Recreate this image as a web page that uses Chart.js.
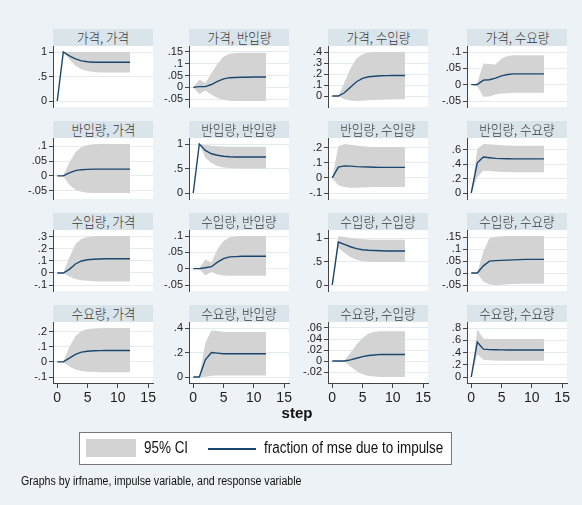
<!DOCTYPE html>
<html>
<head>
<meta charset="utf-8">
<script src="https://cdn.jsdelivr.net/npm/chart.js@4.4.1/dist/chart.umd.min.js"></script>
<style>
  body { margin: 0; background: #ecf2f6; }
  #wrap { position: relative; width: 582px; height: 505px; background: #ecf2f6; overflow: hidden; }
  #wrap canvas { position: absolute; }
  .ttl { position: absolute; height: 17px; background: #dae4eb; color: #3a3a3a;
         font: 300 14px 'Noto Sans CJK KR', sans-serif; line-height: 17px; text-align: center; white-space: nowrap; }
  .ttl span { display: inline-block; transform: scaleX(0.9); }
  .txt { position: absolute; white-space: nowrap; color: #111; font-family: 'Liberation Sans', Arial, sans-serif; }
</style>
</head>
<body>
<div id="wrap"></div>
<script>
// steps 0..12 of the FEVD, panels row = impulse, col = response
const steps = [0, 1, 2, 3, 4, 5, 6, 7, 8, 9, 10, 11, 12];
const varNames = ['가격', '반입량', '수입량', '수요량'];
const xTickValues = [0, 5, 10, 15];

const fraction = [
  [0, 1.0, 0.92, 0.86, 0.82, 0.80, 0.79, 0.79, 0.79, 0.79, 0.79, 0.79, 0.79],
  [0, 0.003, 0.003, 0.012, 0.025, 0.036, 0.041, 0.042, 0.043, 0.043, 0.044, 0.044, 0.044],
  [0, 0, 0.03, 0.08, 0.13, 0.16, 0.175, 0.18, 0.184, 0.185, 0.186, 0.186, 0.186],
  [0, 0, 0.014, 0.015, 0.02, 0.027, 0.031, 0.033, 0.033, 0.033, 0.033, 0.033, 0.033],
  [0, 0, 0.01, 0.018, 0.021, 0.022, 0.023, 0.023, 0.023, 0.023, 0.023, 0.023, 0.023],
  [0, 1.0, 0.87, 0.80, 0.77, 0.75, 0.74, 0.735, 0.735, 0.735, 0.735, 0.735, 0.735],
  [0, 0.072, 0.08, 0.078, 0.075, 0.073, 0.072, 0.071, 0.07, 0.07, 0.07, 0.07, 0.07],
  [0, 0.42, 0.50, 0.49, 0.48, 0.477, 0.475, 0.474, 0.473, 0.473, 0.473, 0.473, 0.473],
  [0, 0, 0.03, 0.075, 0.1, 0.11, 0.115, 0.117, 0.118, 0.118, 0.118, 0.118, 0.118],
  [0, 0, 0.003, 0.006, 0.02, 0.031, 0.036, 0.037, 0.038, 0.038, 0.038, 0.038, 0.038],
  [0, 0.92, 0.87, 0.82, 0.78, 0.755, 0.745, 0.74, 0.735, 0.73, 0.73, 0.73, 0.73],
  [0, 0, 0.03, 0.05, 0.052, 0.053, 0.054, 0.055, 0.056, 0.057, 0.057, 0.057, 0.057],
  [0, 0, 0.025, 0.05, 0.065, 0.071, 0.074, 0.075, 0.076, 0.076, 0.076, 0.076, 0.076],
  [0, 0, 0.14, 0.2, 0.195, 0.19, 0.19, 0.19, 0.19, 0.19, 0.19, 0.19, 0.19],
  [0, 0, 0, 0.002, 0.005, 0.008, 0.010, 0.011, 0.012, 0.012, 0.012, 0.012, 0.012],
  [0, 0.57, 0.455, 0.447, 0.445, 0.443, 0.442, 0.441, 0.44, 0.44, 0.44, 0.44, 0.44]
];

const ciLower = [
  [0, 1.0, 0.85, 0.72, 0.65, 0.61, 0.59, 0.58, 0.58, 0.58, 0.58, 0.58, 0.58],
  [0, -0.028, -0.015, -0.03, -0.045, -0.053, -0.057, -0.058, -0.058, -0.058, -0.058, -0.058, -0.058],
  [0, -0.002, -0.03, -0.04, -0.045, -0.042, -0.038, -0.035, -0.033, -0.032, -0.031, -0.03, -0.03],
  [0, -0.005, -0.037, -0.036, -0.03, -0.027, -0.026, -0.025, -0.025, -0.025, -0.025, -0.025, -0.025],
  [0, -0.002, -0.03, -0.047, -0.054, -0.057, -0.058, -0.058, -0.058, -0.058, -0.058, -0.058, -0.058],
  [0, 1.0, 0.72, 0.61, 0.55, 0.52, 0.51, 0.50, 0.50, 0.50, 0.50, 0.50, 0.50],
  [0, -0.048, -0.06, -0.065, -0.065, -0.063, -0.062, -0.061, -0.06, -0.06, -0.06, -0.06, -0.06],
  [0, 0.22, 0.31, 0.305, 0.298, 0.293, 0.29, 0.288, 0.287, 0.287, 0.287, 0.287, 0.287],
  [0, -0.002, -0.03, -0.05, -0.06, -0.065, -0.068, -0.07, -0.07, -0.07, -0.07, -0.07, -0.07],
  [0, -0.002, -0.021, -0.01, -0.018, -0.021, -0.022, -0.022, -0.022, -0.022, -0.022, -0.022, -0.022],
  [0, 0.8, 0.69, 0.6, 0.54, 0.51, 0.5, 0.495, 0.495, 0.495, 0.495, 0.495, 0.495],
  [0, -0.002, -0.035, -0.048, -0.05, -0.049, -0.047, -0.046, -0.045, -0.045, -0.045, -0.045, -0.045],
  [0, -0.002, -0.03, -0.05, -0.06, -0.065, -0.067, -0.068, -0.068, -0.068, -0.068, -0.068, -0.068],
  [0, 0, 0.003, 0.01, 0.012, 0.012, 0.012, 0.012, 0.012, 0.012, 0.012, 0.012, 0.012],
  [0, 0, -0.001, -0.01, -0.018, -0.024, -0.027, -0.028, -0.029, -0.029, -0.029, -0.029, -0.029],
  [0, 0.37, 0.28, 0.272, 0.268, 0.266, 0.265, 0.265, 0.265, 0.265, 0.265, 0.265, 0.265]
];

const ciUpper = [
  [0, 1, 1, 1, 1, 1, 1, 1, 1, 1, 1, 1, 1],
  [0, 0.033, 0.018, 0.06, 0.10, 0.13, 0.143, 0.146, 0.147, 0.147, 0.147, 0.147, 0.147],
  [0, 0.002, 0.12, 0.25, 0.34, 0.38, 0.395, 0.40, 0.40, 0.40, 0.40, 0.40, 0.40],
  [0, 0.005, 0.065, 0.063, 0.062, 0.08, 0.088, 0.09, 0.09, 0.09, 0.09, 0.09, 0.09],
  [0, 0.002, 0.045, 0.08, 0.098, 0.105, 0.107, 0.108, 0.108, 0.108, 0.108, 0.108, 0.108],
  [0, 1.0, 0.98, 0.965, 0.955, 0.95, 0.945, 0.945, 0.945, 0.945, 0.945, 0.945, 0.945],
  [0, 0.21, 0.225, 0.22, 0.215, 0.21, 0.207, 0.205, 0.205, 0.205, 0.205, 0.205, 0.205],
  [0, 0.61, 0.68, 0.675, 0.668, 0.662, 0.658, 0.655, 0.654, 0.654, 0.654, 0.654, 0.654],
  [0, 0.002, 0.13, 0.24, 0.285, 0.3, 0.305, 0.307, 0.308, 0.308, 0.308, 0.308, 0.308],
  [0, 0.002, 0.028, 0.019, 0.06, 0.085, 0.096, 0.099, 0.1, 0.1, 0.1, 0.1, 0.1],
  [0, 1.05, 1.03, 1.01, 0.99, 0.98, 0.975, 0.97, 0.97, 0.97, 0.97, 0.97, 0.97],
  [0, 0.002, 0.09, 0.145, 0.152, 0.154, 0.155, 0.155, 0.155, 0.155, 0.155, 0.155, 0.155],
  [0, 0.002, 0.1, 0.17, 0.205, 0.218, 0.222, 0.224, 0.225, 0.225, 0.225, 0.225, 0.225],
  [0, 0.002, 0.28, 0.38, 0.375, 0.37, 0.368, 0.367, 0.367, 0.367, 0.367, 0.367, 0.367],
  [0, 0, 0.001, 0.015, 0.03, 0.042, 0.05, 0.053, 0.054, 0.054, 0.054, 0.054, 0.054],
  [0, 0.78, 0.63, 0.622, 0.62, 0.62, 0.62, 0.62, 0.62, 0.62, 0.62, 0.62, 0.62]
];

const yTickValues = [
  [0, 0.5, 1], [-0.05, 0, 0.05, 0.1, 0.15], [0, 0.1, 0.2, 0.3, 0.4], [-0.05, 0, 0.05, 0.1],
  [-0.05, 0, 0.05, 0.1], [0, 0.5, 1], [-0.1, 0, 0.1, 0.2], [0, 0.2, 0.4, 0.6],
  [-0.1, 0, 0.1, 0.2, 0.3], [-0.05, 0, 0.05, 0.1], [0, 0.5, 1], [-0.05, 0, 0.05, 0.1, 0.15],
  [-0.1, 0, 0.1, 0.2], [0, 0.2, 0.4], [-0.02, 0, 0.02, 0.04, 0.06], [0, 0.2, 0.4, 0.6, 0.8]
];

const wrap = document.getElementById('wrap');
const colLeft = [53, 189, 328, 467];
const rowTop = [46, 138, 230, 322];
const plotW = 100, plotH = 61, yAxisW = 40;
const navy = '#1a476f';
const sans = "'Liberation Sans', Arial, sans-serif";

// stata style labels: .5 instead of 0.5
const fmt = v => v === 0 ? '0' : String(v).replace(/^(-?)0\./, '$1.');

const plotBg = {
  id: 'plotBg',
  beforeDraw(chart) {
    const a = chart.chartArea, ctx = chart.ctx;
    ctx.save();
    ctx.fillStyle = '#ffffff';
    ctx.fillRect(a.left, a.top, a.width, a.height);
    ctx.restore();
  }
};

for (let i = 0; i < 16; i++) {
  const r = Math.floor(i / 4), c = i % 4;
  const bottom = r === 3;

  const t = document.createElement('div');
  t.className = 'ttl';
  t.style.left = colLeft[c] + 'px';
  t.style.top = (rowTop[r] - 17) + 'px';
  t.style.width = plotW + 'px';
  const sp = document.createElement('span');
  sp.textContent = varNames[r] + ', ' + varNames[c];
  t.appendChild(sp);
  wrap.appendChild(t);

  const cv = document.createElement('canvas');
  const w = yAxisW + plotW + 10;
  const h = 8 + plotH + (bottom ? 26 : 8);
  cv.width = w; cv.height = h;
  cv.style.left = (colLeft[c] - yAxisW) + 'px';
  cv.style.top = (rowTop[r] - 8) + 'px';
  cv.style.width = w + 'px'; cv.style.height = h + 'px';
  wrap.appendChild(cv);

  const ticks = yTickValues[i];
  const lo = Math.min(ticks[0], ...ciLower[i], ...fraction[i]);
  const hi = Math.max(ticks[ticks.length - 1], ...ciUpper[i], ...fraction[i]);
  const pad = (hi - lo) * 6 / (plotH - 12);

  new Chart(cv, {
    type: 'line',
    data: {
      datasets: [
        { data: steps.map((s, k) => ({ x: s, y: ciUpper[i][k] })), borderWidth: 0, borderColor: 'rgba(0,0,0,0)',
          pointRadius: 0, fill: '+1', backgroundColor: '#d3d3d3', order: 2 },
        { data: steps.map((s, k) => ({ x: s, y: ciLower[i][k] })), borderWidth: 0, borderColor: 'rgba(0,0,0,0)',
          pointRadius: 0, fill: false, order: 3 },
        { data: steps.map((s, k) => ({ x: s, y: fraction[i][k] })), borderColor: navy, borderWidth: 1.4,
          pointRadius: 0, fill: false, order: 0 }
      ]
    },
    options: {
      responsive: false,
      animation: false,
      events: [],
      layout: { padding: { left: 0, right: 10, top: 8, bottom: bottom ? 0 : 8 } },
      plugins: { legend: { display: false }, tooltip: { enabled: false }, filler: { drawTime: 'beforeDatasetsDraw' } },
      scales: {
        x: {
          type: 'linear', min: -0.7, max: 15.8,
          display: bottom,
          afterFit(s) { s.height = bottom ? 26 : 0; s.paddingLeft = 0; s.paddingRight = 0; },
          afterBuildTicks(s) { s.ticks = xTickValues.map(v => ({ value: v })); },
          ticks: { autoSkip: false, maxRotation: 0, padding: 2, color: '#222',
                   font: { family: sans, size: 14 } },
          grid: { drawOnChartArea: false, tickLength: 5, tickColor: '#444' },
          border: { display: true, color: '#444', width: 1 }
        },
        y: {
          min: lo - pad, max: hi + pad,
          afterFit(s) { s.width = yAxisW; s.paddingTop = 0; s.paddingBottom = 0; },
          afterBuildTicks(s) { s.ticks = ticks.map(v => ({ value: v })); },
          ticks: { autoSkip: false, padding: 2, color: '#222', callback: v => fmt(v),
                   font: { family: sans, size: 11 } },
          grid: { color: '#e4ebef', tickLength: 4, tickColor: '#444' },
          border: { display: true, color: '#444', width: 1 }
        }
      }
    },
    plugins: [plotBg]
  });
}

// axis title, legend and note
const addText = (txt, css) => {
  const d = document.createElement('div');
  d.className = 'txt';
  d.textContent = txt;
  Object.assign(d.style, css);
  wrap.appendChild(d);
  return d;
};

addText('step', { left: '260px', top: '404px', width: '74px', textAlign: 'center', font: "bold 15px " + sans });

const box = document.createElement('div');
Object.assign(box.style, { position: 'absolute', left: '79px', top: '432px', width: '371px', height: '31px',
  background: '#fff', border: '1px solid #777' });
wrap.appendChild(box);
const sw = document.createElement('div');
Object.assign(sw.style, { position: 'absolute', left: '6px', top: '6px', width: '50px', height: '18px', background: '#d3d3d3' });
box.appendChild(sw);
const ln = document.createElement('div');
Object.assign(ln.style, { position: 'absolute', left: '128px', top: '15px', width: '48px', height: '2px', background: navy });
box.appendChild(ln);
const l1 = document.createElement('div');
l1.className = 'txt'; l1.textContent = '95% CI';
Object.assign(l1.style, { left: '64px', top: '6px', font: '16px ' + sans, transform: 'scaleX(0.84)', transformOrigin: 'left' });
box.appendChild(l1);
const l2 = document.createElement('div');
l2.className = 'txt'; l2.textContent = 'fraction of mse due to impulse';
Object.assign(l2.style, { left: '184px', top: '6px', font: '16px ' + sans, transform: 'scaleX(0.84)', transformOrigin: 'left' });
box.appendChild(l2);

addText('Graphs by irfname, impulse variable, and response variable',
  { left: '21px', top: '474px', font: '12.5px ' + sans, transform: 'scaleX(0.85)', transformOrigin: 'left' });
</script>
</body>
</html>
